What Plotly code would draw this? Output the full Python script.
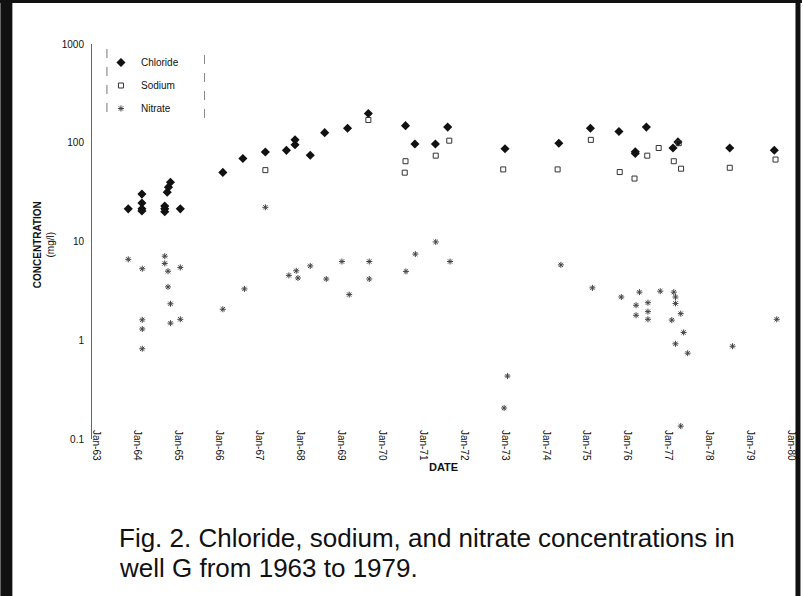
import plotly.graph_objects as go

# ---------------- data ----------------
chloride_dates = ["1963-10-15", "1964-02-14", "1964-02-14", "1964-02-14", "1964-02-14",
                  "1964-09-05", "1964-09-05", "1964-09-05", "1964-09-27", "1964-10-08",
                  "1964-10-26", "1965-01-22", "1966-02-06", "1966-08-04", "1967-02-21",
                  "1967-08-28", "1967-11-13", "1967-11-13", "1968-03-28", "1968-08-04",
                  "1969-02-24", "1969-08-29", "1970-07-27", "1970-10-19", "1971-04-20",
                  "1971-08-08", "1973-01-01", "1974-04-27", "1975-02-03", "1975-10-16",
                  "1976-03-10", "1976-03-10", "1976-06-17", "1977-02-10", "1977-03-26",
                  "1978-07-02", "1979-08-04"]
chloride_vals = [21.4, 30.2, 24.5, 21.4, 20.4,
                 22.9, 21.4, 20.0, 31.6, 35.5,
                 39.8, 21.4, 50.1, 69.2, 80.7,
                 83.8, 107, 95.5, 74.6, 126.5,
                 140, 198, 149, 97, 97,
                 144, 87, 99, 140, 130,
                 81, 78, 144, 88.5, 102,
                 88.5, 84]

sodium_dates = ["1967-02-21", "1969-08-29", "1970-07-27", "1970-07-20", "1971-04-23",
                "1971-08-22", "1972-12-16", "1974-04-16", "1975-02-07", "1975-10-23",
                "1976-03-03", "1976-06-25", "1976-10-05", "1977-02-17", "1977-04-02",
                "1977-04-23", "1978-07-02", "1979-08-15"]
sodium_vals = [52.8, 170, 65, 49.8, 74,
               105, 53.7, 53.7, 107, 50.5,
               43.4, 74, 88.5, 65, 99,
               54.6, 55.8, 67.6]

nitrate_dates = ["1963-10-15", "1964-02-17", "1964-02-17", "1964-02-17", "1964-02-17",
                 "1964-09-05", "1964-09-05", "1964-10-04", "1964-10-04", "1964-10-26",
                 "1964-10-26", "1965-01-22", "1965-01-22", "1966-02-06", "1966-08-18",
                 "1967-02-21", "1967-09-19", "1967-11-24", "1967-12-09", "1968-03-28",
                 "1968-08-18", "1969-01-05", "1969-03-11", "1969-09-06", "1969-09-06",
                 "1970-07-31", "1970-10-23", "1971-04-23", "1971-08-29", "1973-01-23",
                 "1972-12-24", "1974-05-15", "1975-02-21", "1975-11-06", "1976-03-17",
                 "1976-03-17", "1976-04-16", "1976-07-01", "1976-07-01", "1976-07-01",
                 "1976-10-19", "1977-02-17", "1977-03-04", "1977-03-04", "1977-03-04",
                 "1977-04-20", "1977-04-20", "1977-01-30", "1977-05-16", "1977-06-21",
                 "1978-07-27", "1979-08-26"]
nitrate_vals = [6.6, 5.3, 1.61, 1.30, 0.82,
                7.1, 6.0, 5.0, 3.47, 2.34,
                1.49, 5.46, 1.63, 2.06, 3.31,
                22.2, 4.54, 5.05, 4.27, 5.66,
                4.17, 6.27, 2.9, 6.27, 4.17,
                4.98, 7.46, 9.9, 6.27, 0.434,
                0.206, 5.8, 3.39, 2.74, 2.26,
                1.79, 3.07, 2.4, 1.95, 1.63,
                3.14, 3.07, 2.74, 2.36, 0.92,
                1.86, 0.135, 1.6, 1.2, 0.74,
                0.87, 1.63]

y_tick_vals = [0.1, 1, 10, 100, 1000]
y_tick_text = ["0.1", "1", "10", "100", "1000"]

series_names = ["Chloride", "Sodium", "Nitrate"]
caption_lines = ["Fig. 2. Chloride, sodium, and nitrate concentrations in",
                 "well G from 1963 to 1979."]

# ---------------- layout geometry ----------------
W, H = 803, 596
L, R, T, B = 92, 6, 44, 157
PW, PH = W - L - R, H - T - B


def px_x(p):
    return (p - L) / PW


def px_y(p):
    return (H - B - p) / PH


FONT = "Arial, Liberation Sans, sans-serif"

fig = go.Figure()
fig.add_trace(go.Scatter(
    x=chloride_dates, y=chloride_vals, mode="markers", name=series_names[0],
    legendgroup="a",
    marker=dict(symbol="diamond", size=7, color="#111111", line=dict(width=0))))
fig.add_trace(go.Scatter(
    x=sodium_dates, y=sodium_vals, mode="markers", name=series_names[1],
    legendgroup="b",
    marker=dict(symbol="square-open", size=5, color="#333333", line=dict(width=1, color="#333333"))))
fig.add_trace(go.Scatter(
    x=nitrate_dates, y=nitrate_vals, mode="markers", name=series_names[2],
    legendgroup="c",
    marker=dict(symbol="asterisk-open", size=5, color="#444444", line=dict(width=1, color="#444444"))))

shapes = []
# legend dashed bounds
shapes.append(dict(type="line", xref="paper", yref="paper", x0=px_x(107), x1=px_x(107),
                   y0=px_y(49), y1=px_y(121), line=dict(color="#777", width=1, dash="dash")))
shapes.append(dict(type="line", xref="paper", yref="paper", x0=px_x(205), x1=px_x(205),
                   y0=px_y(55), y1=px_y(122), line=dict(color="#888", width=1, dash="dash")))
# scanned page frame (drawn as thick lines)
shapes.append(dict(type="line", xref="paper", yref="paper", x0=px_x(6), x1=px_x(6),
                   y0=px_y(600), y1=px_y(-2), line=dict(color="#111", width=12)))
shapes.append(dict(type="line", xref="paper", yref="paper", x0=px_x(-2), x1=px_x(805),
                   y0=px_y(1), y1=px_y(1), line=dict(color="#111", width=4)))
shapes.append(dict(type="line", xref="paper", yref="paper", x0=px_x(801), x1=px_x(801),
                   y0=px_y(600), y1=px_y(-2), line=dict(color="#111", width=5)))

annotations = [
    dict(text="<b>CONCENTRATION</b><br>(mg/l)", xref="paper", yref="paper",
         x=px_x(44), y=px_y(245), textangle=-90, showarrow=False,
         font=dict(family=FONT, size=10, color="#111"), xanchor="center", yanchor="middle"),
    dict(text="<b>DATE</b>", xref="paper", yref="paper", x=0.5, y=px_y(467),
         showarrow=False, font=dict(family=FONT, size=11, color="#111"),
         xanchor="center", yanchor="middle"),
    dict(text=caption_lines[0], xref="paper", yref="paper", x=px_x(117), y=px_y(538),
         showarrow=False, align="left", xanchor="left", yanchor="middle",
         font=dict(family=FONT, size=26, color="#111")),
    dict(text=caption_lines[1], xref="paper", yref="paper", x=px_x(117), y=px_y(568),
         showarrow=False, align="left", xanchor="left", yanchor="middle",
         font=dict(family=FONT, size=26, color="#111")),
]

fig.update_layout(
    width=W, height=H,
    margin=dict(l=L, r=R, t=T, b=B, pad=0),
    paper_bgcolor="white", plot_bgcolor="white",
    font=dict(family=FONT, size=10, color="#111"),
    showlegend=True,
    legend=dict(x=px_x(101), y=px_y(48), xanchor="left", yanchor="top",
                bgcolor="rgba(0,0,0,0)", borderwidth=0, tracegroupgap=4,
                font=dict(family=FONT, size=10, color="#111")),
    shapes=shapes,
    annotations=annotations,
    xaxis=dict(type="date", range=["1962-11-25", "1980-01-27"],
               tick0="1963-01-01", dtick="M12", tickformat="%b-%y", tickangle=90,
               showgrid=False, zeroline=False, showline=False, ticks="",
               ticklabelstandoff=-10, tickfont=dict(family=FONT, size=10, color="#111")),
    yaxis=dict(type="log", range=[-1, 3], tickvals=y_tick_vals, ticktext=y_tick_text,
               showgrid=False, zeroline=False, showline=True, linecolor="#666", linewidth=1,
               ticks="", ticklabelstandoff=5, tickfont=dict(family=FONT, size=10, color="#111")),
)

fig.write_html("out.html", config={"displayModeBar": False},
               post_script="document.body.style.margin='0';")
